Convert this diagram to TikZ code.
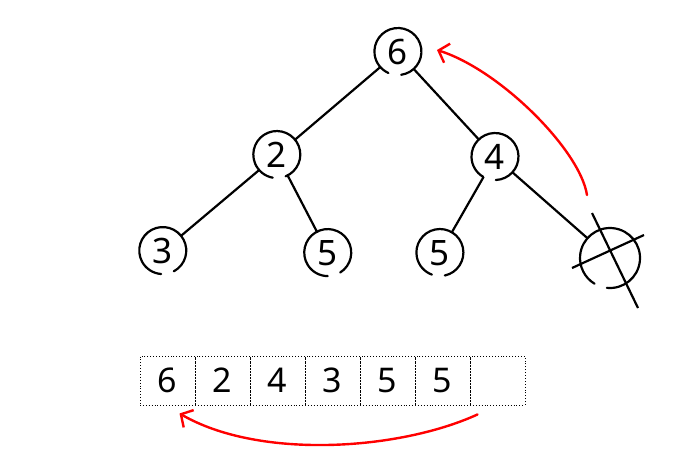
\documentclass[tikz,border=0pt]{standalone}
\usepackage{fontspec}
\setmainfont{Noto Sans}
\usetikzlibrary{arrows.meta, calc}

\begin{document}
\begin{tikzpicture}[x=1pt, y=-1pt,
    heap/.style={circle, minimum size=46pt, inner sep=0pt, outer sep=0pt,
        font=\fontsize{35}{40}\selectfont},
    loopline/.style={line width=2.2pt, line cap=round},
    edge/.style={line width=2.2pt},
    cell/.style={draw, dotted, line width=0.9pt, minimum width=55pt,
        minimum height=49pt, inner sep=0pt, font=\fontsize{34}{40}\selectfont},
    redarrow/.style={red, line width=2.4pt, line cap=round,
        -{Straight Barb[length=9pt, width=20pt, line width=2.4pt]}}]
    \useasboundingbox (0,0) rectangle (684,461);

    % Tree nodes
    \node[heap] (n6) at (398,52) {6};
    \node[heap] (n2) at (277,155) {2};
    \node[heap] (n4) at (495,157) {4};
    \node[heap] (n3) at (163,251) {3};
    \node[heap] (n5a) at (328,253) {5};
    \node[heap] (n5b) at (440,253) {5};
    \node[heap, minimum size=60pt] (nx) at (610,258) {};

    % Hand drawn loops
    \foreach \n/\g in {n6/-82, n2/-68, n4/-88, n3/-62, n5a/-58, n5b/-78}
        \draw[loopline] (\n.\g) arc[start angle=\g, delta angle=328, radius=23.5pt];
    \draw[loopline] (nx.-96) arc[start angle=-96, delta angle=335, radius=30pt];

    % Edges
    \draw[edge] (n6) -- (n2);
    \draw[edge] (n6) -- (n4);
    \draw[edge] (n2) -- (n3);
    \draw[edge] (n2) -- (n5a);
    \draw[edge] (n4) -- (n5b);
    \draw[edge] (n4) -- (nx);

    % Cross over removed node
    \draw[edge] ($(nx)+(-38,10)$) -- ($(nx)+(34,-23)$);
    \draw[edge] ($(nx)+(-18,-45)$) -- ($(nx)+(28,50)$);

    % Array
    \foreach \v [count=\i] in {6,2,4,3,5,5,{}}
        \node[cell] (c\i) at ({112.5+55*\i},380.5) {\v};

    % Moves
    \draw[redarrow] ([xshift=-23pt, yshift=33pt]nx.north)
        .. controls (580,150) and (500,70) .. ([xshift=16pt, yshift=2pt]n6.east);
    \draw[redarrow] ([xshift=-20pt, yshift=-9pt]c7.south)
        .. controls (400,450) and (260,460) .. ([xshift=12pt, yshift=-8pt]c1.south);
\end{tikzpicture}
\end{document}
